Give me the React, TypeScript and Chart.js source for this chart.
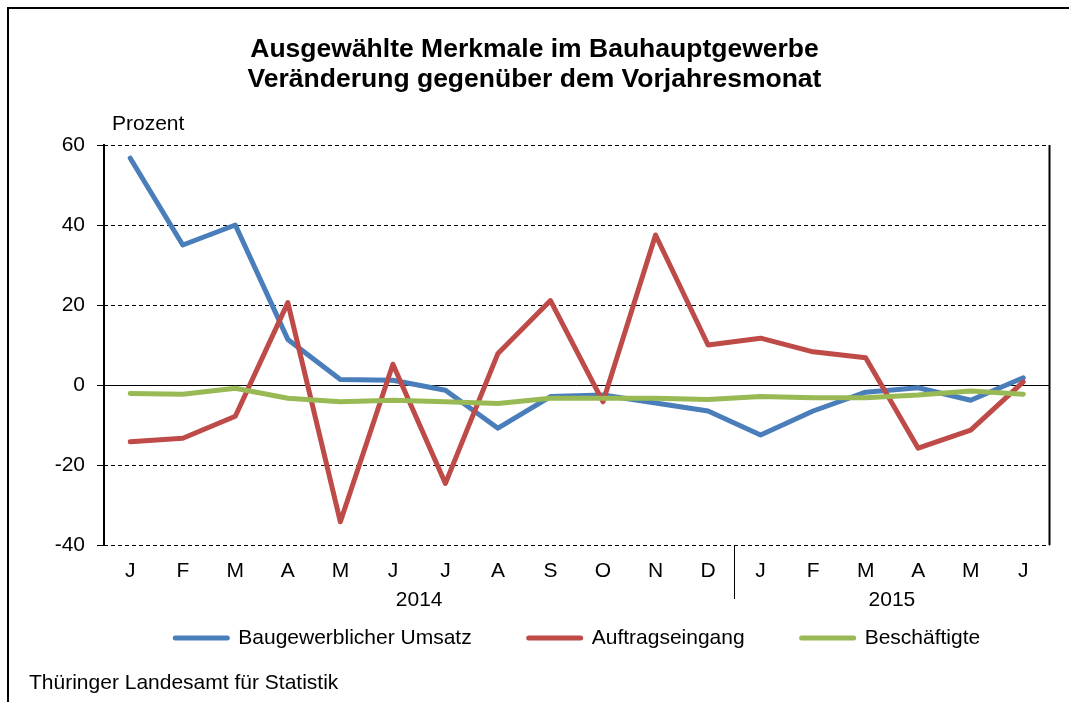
import React, { useEffect, useRef } from "react";
import { Chart, registerables } from "chart.js";

Chart.register(...registerables);

const months = ["J", "F", "M", "A", "M", "J", "J", "A", "S", "O", "N", "D", "J", "F", "M", "A", "M", "J"];
const years = ["2014", "2015"];
const yearSpans = [12, 6];

const umsatz = [56.7, 35, 40, 11.4, 1.4, 1.2, -1.3, -10.8, -2.9, -2.5, -4.5, -6.5, -12.5, -6.5, -1.8, -0.7, -3.8, 1.8];
const auftragseingang = [-14.2, -13.3, -7.8, 20.6, -34.2, 5.2, -24.6, 7.9, 21.1, -4.2, 37.5, 10, 11.7, 8.3, 6.8, -15.8, -11.3, 0.8];
const beschaeftigte = [-2.1, -2.3, -0.8, -3.3, -4.2, -3.8, -4.2, -4.6, -3.3, -3.3, -3.3, -3.6, -2.9, -3.2, -3.2, -2.5, -1.5, -2.3];

const seriesNames = ["Baugewerblicher Umsatz", "Auftragseingang", "Beschäftigte"];
const seriesColors = ["#4A7EBB", "#BE4B48", "#98B954"];

const titleLines = ["Ausgewählte Merkmale im Bauhauptgewerbe", "Veränderung gegenüber dem Vorjahresmonat"];
const yAxisTitle = "Prozent";
const sourceText = "Thüringer Landesamt für Statistik";

const FONT = "'Liberation Sans', Arial, sans-serif";
const W = 1069;
const H = 702;

const decorPlugin = {
  id: "decor",
  beforeDatasetsDraw(chart: any) {
    const ctx = chart.ctx;
    const area = chart.chartArea;
    const y = chart.scales.y;
    ctx.save();
    y.ticks.forEach((t: any) => {
      const py = Math.round(y.getPixelForValue(t.value)) + 0.5;
      ctx.beginPath();
      ctx.lineWidth = 1;
      ctx.strokeStyle = "#000";
      ctx.setLineDash(t.value === 0 ? [] : [4, 3]);
      ctx.moveTo(area.left, py);
      ctx.lineTo(area.right, py);
      ctx.stroke();
    });
    ctx.setLineDash([]);
    ctx.lineWidth = 2;
    ctx.beginPath();
    ctx.moveTo(area.right, area.top);
    ctx.lineTo(area.right, area.bottom);
    ctx.stroke();
    ctx.restore();
  },
  afterDraw(chart: any) {
    const ctx = chart.ctx;
    const area = chart.chartArea;
    const x = chart.scales.x;
    ctx.save();
    // outer frame
    ctx.strokeStyle = "#000";
    ctx.lineWidth = 2;
    ctx.strokeRect(8, 8, W + 20, H + 20);

    ctx.fillStyle = "#000";
    // title
    ctx.font = `bold 26.5px ${FONT}`;
    ctx.textAlign = "center";
    ctx.textBaseline = "middle";
    ctx.fillText(titleLines[0], W / 2, 50);
    ctx.fillText(titleLines[1], W / 2, 80);

    // y axis title
    ctx.font = `21px ${FONT}`;
    ctx.textAlign = "left";
    ctx.fillText(yAxisTitle, 112, 124);

    // year groups
    let start = 0;
    years.forEach((yr, i) => {
      const end = start + yearSpans[i] - 1;
      const cx = (x.getPixelForValue(start) + x.getPixelForValue(end)) / 2;
      ctx.textAlign = "center";
      ctx.fillText(yr, cx, 600);
      if (i < years.length - 1) {
        const sx = Math.round((x.getPixelForValue(end) + x.getPixelForValue(end + 1)) / 2) + 0.5;
        ctx.beginPath();
        ctx.lineWidth = 1;
        ctx.moveTo(sx, area.bottom);
        ctx.lineTo(sx, 599);
        ctx.stroke();
      }
      start = end + 1;
    });

    // legend
    const boxW = 56;
    const textGap = 9;
    const itemGap = 55;
    const widths = seriesNames.map((n) => boxW + textGap + ctx.measureText(n).width);
    const total = widths.reduce((a, b) => a + b, 0) + itemGap * (widths.length - 1);
    let lx = (area.left + area.right) / 2 - total / 2;
    const ly = 638;
    seriesNames.forEach((n, i) => {
      ctx.beginPath();
      ctx.strokeStyle = seriesColors[i];
      ctx.lineWidth = 5;
      ctx.lineCap = "round";
      ctx.moveTo(lx + 2, ly);
      ctx.lineTo(lx + boxW - 2, ly);
      ctx.stroke();
      ctx.fillStyle = "#000";
      ctx.textAlign = "left";
      ctx.fillText(n, lx + boxW + textGap, ly);
      lx += widths[i] + itemGap;
    });

    // source
    ctx.textAlign = "left";
    ctx.fillText(sourceText, 29, 683);
    ctx.restore();
  },
};

export default function App() {
  const ref = useRef<HTMLCanvasElement | null>(null);
  useEffect(() => {
    if (!ref.current) return;
    Chart.defaults.font.family = FONT;
    Chart.defaults.font.size = 21;
    Chart.defaults.color = "#000";
    const data = [umsatz, auftragseingang, beschaeftigte];
    const chart = new Chart(ref.current, {
      type: "line",
      data: {
        labels: months,
        datasets: seriesNames.map((name, i) => ({
          label: name,
          data: data[i],
          borderColor: seriesColors[i],
          backgroundColor: seriesColors[i],
          borderWidth: 5,
          pointRadius: 0,
          tension: 0,
          borderCapStyle: "round",
          borderJoinStyle: "round",
          order: 2 - i,
        })),
      },
      options: {
        responsive: false,
        animation: false,
        layout: { padding: { top: 145, right: 19.5, left: 0, bottom: 0 } },
        plugins: {
          legend: { display: false },
          title: { display: false },
          tooltip: { enabled: false },
        },
        scales: {
          x: {
            type: "category",
            offset: true,
            grid: { display: false, drawTicks: false },
            border: { display: false },
            ticks: { padding: 14, maxRotation: 0, autoSkip: false, font: { size: 21 }, color: "#000" },
            afterFit: (s: any) => {
              s.height = H - 545;
            },
          },
          y: {
            min: -40,
            max: 60,
            ticks: { stepSize: 20, padding: 12, font: { size: 21 }, color: "#000" },
            grid: { drawOnChartArea: false, drawTicks: true, tickLength: 7, color: "#000", lineWidth: 1 },
            border: { display: true, color: "#000", width: 2 },
            afterFit: (s: any) => {
              s.width = 104;
            },
          },
        },
      },
      plugins: [decorPlugin],
    });
    return () => chart.destroy();
  }, []);
  return (
    <div style={{ position: "absolute", left: 0, top: 0, width: W, height: H, background: "#fff" }}>
      <canvas ref={ref} width={W} height={H} style={{ width: W, height: H, display: "block" }} />
    </div>
  );
}
